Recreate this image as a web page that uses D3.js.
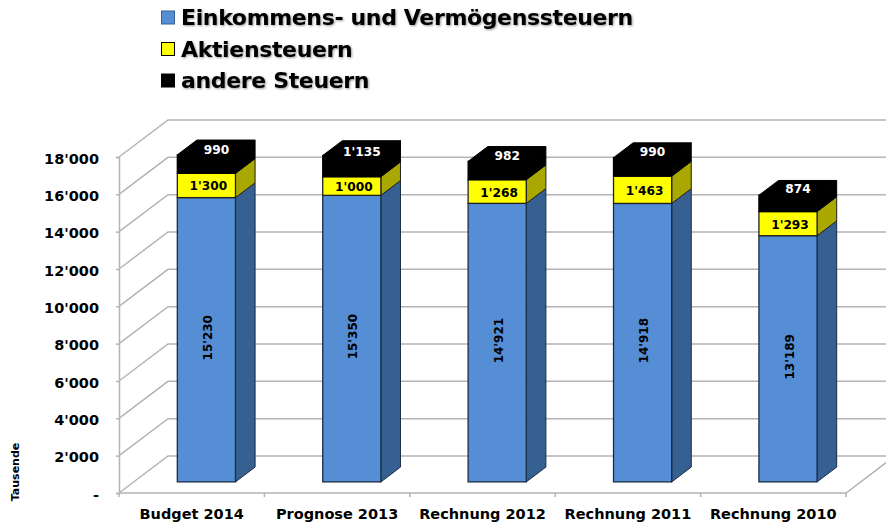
<!doctype html>
<html>
  <head>
    <meta charset="utf-8">
    <title>Steuern</title>
    <script src="https://d3js.org/d3.v7.min.js"></script>
    <style>
      html, body { margin: 0; padding: 0; background: #fff; }
      svg { display: block; }
      text { font-family: "DejaVu Sans", Verdana, sans-serif; font-weight: bold; }
    </style>
  </head>
  <body>
    <script>
      const categories = ['Budget 2014', 'Prognose 2013', 'Rechnung 2012', 'Rechnung 2011', 'Rechnung 2010'];
      const einkommen = [15230, 15350, 14921, 14918, 13189];
      const aktien = [1300, 1000, 1268, 1463, 1293];
      const andere = [990, 1135, 982, 990, 874];
      const seriesNames = ['Einkommens- und Vermögenssteuern', 'Aktiensteuern', 'andere Steuern'];
      const yTicks = [0, 2000, 4000, 6000, 8000, 10000, 12000, 14000, 16000, 18000];

      const width = 886;
      const height = 526;

      const swiss = d3.formatLocale({decimal: '.', thousands: "'", grouping: [3], currency: ['', '']}).format(',d');
      const fmt = d => d === 0 ? '-' : swiss(d);

      const svg = d3.select('body').append('svg')
          .attr('width', width)
          .attr('height', height);

      // schatten fuer die legende
      const shadow = svg.append('defs').append('filter').attr('id', 'soft')
          .attr('x', '-5%').attr('y', '-20%').attr('width', '110%').attr('height', '150%');
      shadow.append('feDropShadow')
          .attr('dx', 1).attr('dy', 1).attr('stdDeviation', 1)
          .attr('flood-color', '#000').attr('flood-opacity', 0.4);

      const x = d3.scaleBand()
          .domain(categories)
          .range([119, 846])
          .paddingInner(0.6)
          .paddingOuter(0.3);
      const y = d3.scaleLinear().domain([0, 18000]).range([493, 157]);

      // tiefe: 0 = vorne, 1 = hinten
      const dx = d3.scaleLinear().domain([0, 1]).range([0, 49]);
      const dy = d3.scaleLinear().domain([0, 1]).range([0, -37]);
      const barFront = 0.3;
      const barBack = 0.7;

      const grid = '#b4b4b4';
      const line = d3.line();

      // waende und gitter
      const gGrid = svg.append('g').attr('fill', 'none').attr('stroke', grid).attr('stroke-width', 1.5);
      gGrid.selectAll('path')
        .data(yTicks)
        .enter().append('path')
          .attr('d', d => line([
            [119, y(d)],
            [119 + dx(1), y(d) + dy(1)],
            [d === 0 ? 846 + dx(1) : width, y(d) + dy(1)]
          ]));
      gGrid.append('path')
          .attr('d', line([[119, y(0)], [846, y(0)], [846 + dx(1), y(0) + dy(1)]]));

      // y achse
      const yAxis = d3.axisLeft(y).tickValues(yTicks).tickFormat(fmt).tickSize(3).tickPadding(17);
      const gY = svg.append('g').attr('transform', 'translate(119,0)').call(yAxis);
      gY.select('.domain').attr('stroke', grid).attr('stroke-width', 1.5);
      gY.selectAll('.tick line').attr('stroke', grid).attr('stroke-width', 1.5);
      gY.selectAll('text').attr('font-size', 14.5).attr('fill', '#000').attr('dy', '0.42em')
          .attr('font-family', '"DejaVu Sans", Verdana, sans-serif').attr('font-weight', 'bold');

      // x achse
      const xStep = x.step();
      const gTicks = svg.append('g').attr('stroke', grid).attr('stroke-width', 1.5);
      gTicks.selectAll('line')
        .data(d3.range(categories.length + 1))
        .enter().append('line')
          .attr('x1', i => x(categories[0]) - x.step() * x.paddingOuter() + i * xStep)
          .attr('x2', i => x(categories[0]) - x.step() * x.paddingOuter() + i * xStep)
          .attr('y1', y(0))
          .attr('y2', y(0) + 4);
      svg.append('g').selectAll('text')
        .data(categories)
        .enter().append('text')
          .attr('x', d => x(d) + x.bandwidth() / 2)
          .attr('y', 519)
          .attr('text-anchor', 'middle')
          .attr('font-size', 14.5)
          .text(d => d);

      svg.append('text')
          .attr('transform', 'translate(19,472) rotate(-90)')
          .attr('text-anchor', 'middle')
          .attr('font-size', 11)
          .text('Tausende');

      // balken
      const layers = [
        {values: einkommen, front: '#558ed5', side: '#376092', top: '#558ed5', stroke: '#1a2c45'},
        {values: aktien, front: '#ffff00', side: '#a8a800', top: '#ffff00', stroke: '#222'},
        {values: andere, front: '#000', side: '#000', top: '#000', stroke: '#000'}
      ];

      const gBars = svg.append('g');
      categories.forEach((c, i) => {
        const left = x(c) + dx(barFront);
        const right = left + x.bandwidth();
        const shiftX = dx(barBack) - dx(barFront);
        const shiftY = dy(barBack) - dy(barFront);
        const lift = dy(barFront);
        let base = 0;
        const g = gBars.append('g');
        layers.forEach((layer, li) => {
          const v = layer.values[i];
          const y0 = y(base) + lift;
          const y1 = y(base + v) + lift;
          g.append('path')
              .attr('d', line([[right, y0], [right + shiftX, y0 + shiftY], [right + shiftX, y1 + shiftY], [right, y1]]) + 'Z')
              .attr('fill', layer.side).attr('stroke', layer.stroke).attr('stroke-width', 1);
          g.append('rect')
              .attr('x', left).attr('y', y1)
              .attr('width', x.bandwidth()).attr('height', y0 - y1)
              .attr('fill', layer.front).attr('stroke', layer.stroke).attr('stroke-width', 1.3);
          if (li === layers.length - 1) {
            g.append('path')
                .attr('d', line([[left, y1], [left + shiftX, y1 + shiftY], [right + shiftX, y1 + shiftY], [right, y1]]) + 'Z')
                .attr('fill', layer.top).attr('stroke', layer.stroke).attr('stroke-width', 1);
          }
          base += v;
        });

        // werte
        const cx = (left + right) / 2;
        const mid = (a, b) => (y(a) + y(b)) / 2 + lift;
        const b1 = einkommen[i];
        const b2 = b1 + aktien[i];
        const b3 = b2 + andere[i];
        g.append('text')
            .attr('transform', `translate(${cx + 5.5},${mid(0, b1) - 2}) rotate(-90)`)
            .attr('text-anchor', 'middle')
            .attr('font-size', 12)
            .text(swiss(b1));
        g.append('text')
            .attr('x', cx + 2).attr('y', mid(b1, b2) + 5)
            .attr('text-anchor', 'middle')
            .attr('font-size', 12.2)
            .text(swiss(aktien[i]));
        g.append('text')
            .attr('x', cx + 10).attr('y', mid(b2, b3) - 10.5)
            .attr('text-anchor', 'middle')
            .attr('font-size', 12.2)
            .attr('fill', '#fff')
            .text(swiss(andere[i]));
      });

      // legende
      const swatchColors = layers.map(l => l.front);
      const gLegend = svg.append('g');
      seriesNames.forEach((name, i) => {
        const ly = 18 + i * 31.5;
        gLegend.append('rect')
            .attr('x', 161.5).attr('y', ly - 7)
            .attr('width', 13).attr('height', 13)
            .attr('fill', swatchColors[i])
            .attr('stroke', i === 0 ? '#376092' : '#000');
        gLegend.append('text')
            .attr('x', 181).attr('y', ly + 7)
            .attr('font-size', 22)
            .attr('letter-spacing', -0.35)
            .attr('filter', 'url(#soft)')
            .text(name);
      });
    </script>
  </body>
</html>
